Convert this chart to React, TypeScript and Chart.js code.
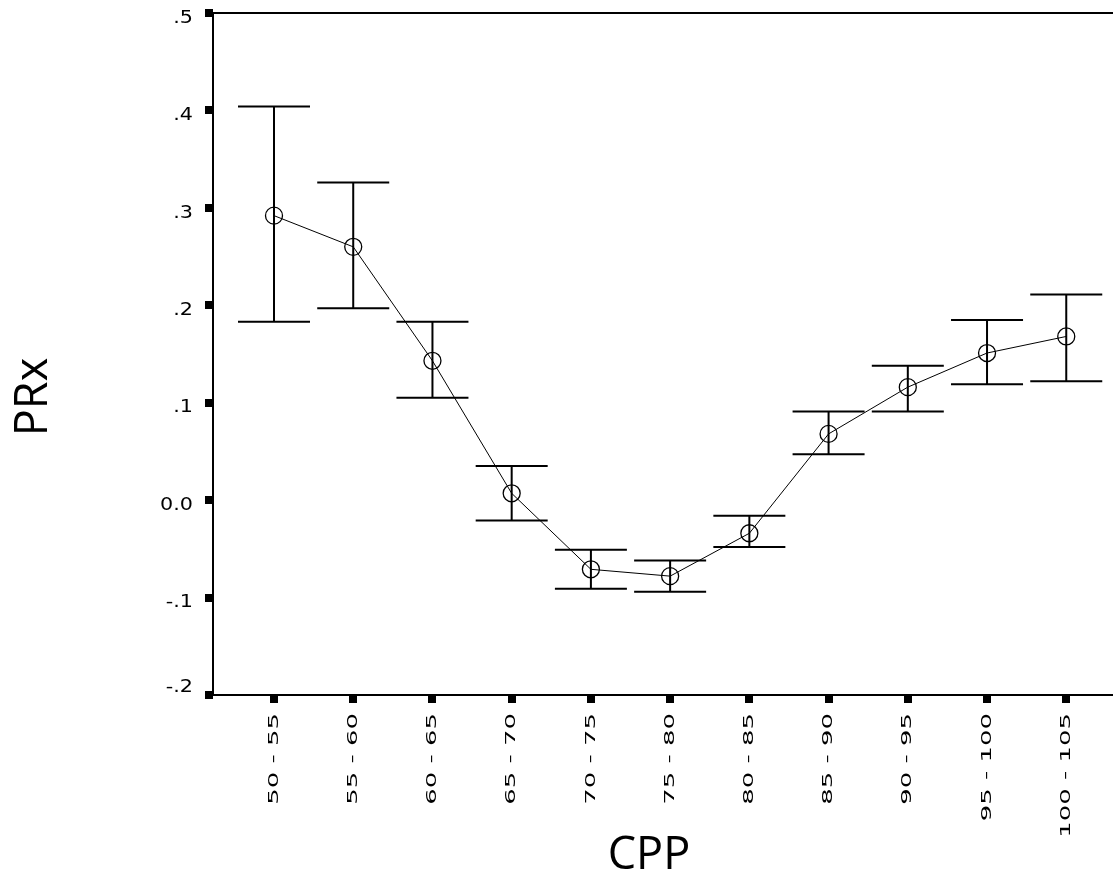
import React, { useEffect, useRef } from "react";
import { Chart, registerables } from "chart.js";

Chart.register(...registerables);

const categories = ["50 - 55", "55 - 60", "60 - 65", "65 - 70", "70 - 75", "75 - 80", "80 - 85", "85 - 90", "90 - 95", "95 - 100", "100 - 105"];
const means = [0.292, 0.260, 0.143, 0.007, -0.071, -0.078, -0.034, 0.068, 0.116, 0.151, 0.168];
const upper = [0.404, 0.326, 0.183, 0.035, -0.051, -0.062, -0.016, 0.091, 0.138, 0.185, 0.211];
const lower = [0.183, 0.197, 0.105, -0.021, -0.091, -0.094, -0.048, 0.047, 0.091, 0.119, 0.122];
const yTicks = [-0.2, -0.1, 0.0, 0.1, 0.2, 0.3, 0.4, 0.5];
const yTickLabels = ["-.2", "-.1", "0.0", ".1", ".2", ".3", ".4", ".5"];
const xTitle = "CPP";
const yTitle = "PRx";

const customPlugin = {
  id: "custom",
  afterDatasetsDraw(chart: any) {
    const ctx = chart.ctx;
    const xs = chart.scales.x;
    const ys = chart.scales.y;
    ctx.save();
    ctx.strokeStyle = "#000";
    ctx.lineWidth = 2;
    for (let i = 0; i < categories.length; i++) {
      const x = xs.getPixelForValue(i + 1);
      const yu = ys.getPixelForValue(upper[i]);
      const yl = ys.getPixelForValue(lower[i]);
      ctx.beginPath();
      ctx.moveTo(x, yu);
      ctx.lineTo(x, yl);
      ctx.moveTo(x - 36, yu);
      ctx.lineTo(x + 36, yu);
      ctx.moveTo(x - 36, yl);
      ctx.lineTo(x + 36, yl);
      ctx.stroke();
    }
    ctx.restore();
  },
  afterDraw(chart: any) {
    const ctx = chart.ctx;
    const xs = chart.scales.x;
    const ys = chart.scales.y;
    const area = chart.chartArea;
    ctx.save();
    ctx.strokeStyle = "#000";
    ctx.lineWidth = 2;
    ctx.beginPath();
    ctx.moveTo(area.left, area.top);
    ctx.lineTo(area.right, area.top);
    ctx.stroke();
    ctx.fillStyle = "#000";
    for (let k = 0; k < yTicks.length; k++) {
      const y = ys.getPixelForValue(yTicks[k]);
      ctx.fillRect(area.left - 8, Math.round(y) - 4, 8, 8);
      const ly = k === 0 ? y - 8 : y + 5;
      ctx.save();
      ctx.translate(area.left - 20, ly);
      ctx.scale(1.15, 1);
      ctx.font = "18px 'DejaVu Sans'";
      ctx.textAlign = "right";
      ctx.textBaseline = "middle";
      ctx.fillText(yTickLabels[k], 0, 0);
      ctx.restore();
    }
    for (let i = 0; i < categories.length; i++) {
      const x = xs.getPixelForValue(i + 1);
      ctx.fillRect(Math.round(x) - 4, area.bottom, 8, 8);
      ctx.save();
      ctx.translate(x, area.bottom + 18);
      ctx.rotate(-Math.PI / 2);
      ctx.scale(1.85, 1);
      ctx.font = "14px 'DejaVu Sans'";
      ctx.textAlign = "right";
      ctx.textBaseline = "middle";
      ctx.fillText(categories[i], 0, 0);
      ctx.restore();
    }
    ctx.font = "45px 'Open Sans'";
    ctx.textAlign = "center";
    ctx.textBaseline = "middle";
    ctx.fillText(xTitle, 649, 856);
    ctx.save();
    ctx.translate(34, 397);
    ctx.rotate(-Math.PI / 2);
    ctx.fillText(yTitle, 0, 0);
    ctx.restore();
    ctx.restore();
  },
};

export default function App() {
  const ref = useRef<HTMLCanvasElement>(null);
  useEffect(() => {
    if (!ref.current) return;
    const chart = new Chart(ref.current, {
      type: "line",
      data: {
        datasets: [
          {
            data: means.map((m, i) => ({ x: i + 1, y: m })),
            borderColor: "#000",
            borderWidth: 1,
            pointRadius: 8.5,
            pointStyle: "circle",
            pointBackgroundColor: "rgba(0,0,0,0)",
            pointBorderColor: "#000",
            pointBorderWidth: 1.3,
            tension: 0,
          },
        ],
      },
      options: {
        animation: false,
        responsive: false,
        devicePixelRatio: 1,
        layout: { autoPadding: false, padding: { top: 13, left: 0, right: 0, bottom: 0 } },
        plugins: { legend: { display: false }, tooltip: { enabled: false } },
        scales: {
          x: {
            type: "linear",
            min: 0.23,
            max: 11.59,
            grid: { display: false },
            border: { display: true, color: "#000", width: 2 },
            ticks: { display: false },
            afterFit(scale: any) {
              scale.height = 188;
              scale.paddingLeft = 0;
              scale.paddingRight = 0;
            },
          },
          y: {
            type: "linear",
            min: -0.2,
            max: 0.5,
            grid: { display: false, drawTicks: false },
            border: { display: true, color: "#000", width: 2 },
            ticks: { display: false, stepSize: 0.1 },
            afterFit(scale: any) {
              scale.width = 213;
              scale.paddingTop = 0;
              scale.paddingBottom = 0;
            },
          },
        },
      },
      plugins: [customPlugin],
    });
    return () => chart.destroy();
  }, []);
  return (
    <div style={{ position: "absolute", left: 0, top: 0, width: 1113, height: 883, background: "#fff" }}>
      <canvas ref={ref} width={1113} height={883} style={{ display: "block" }} />
    </div>
  );
}
